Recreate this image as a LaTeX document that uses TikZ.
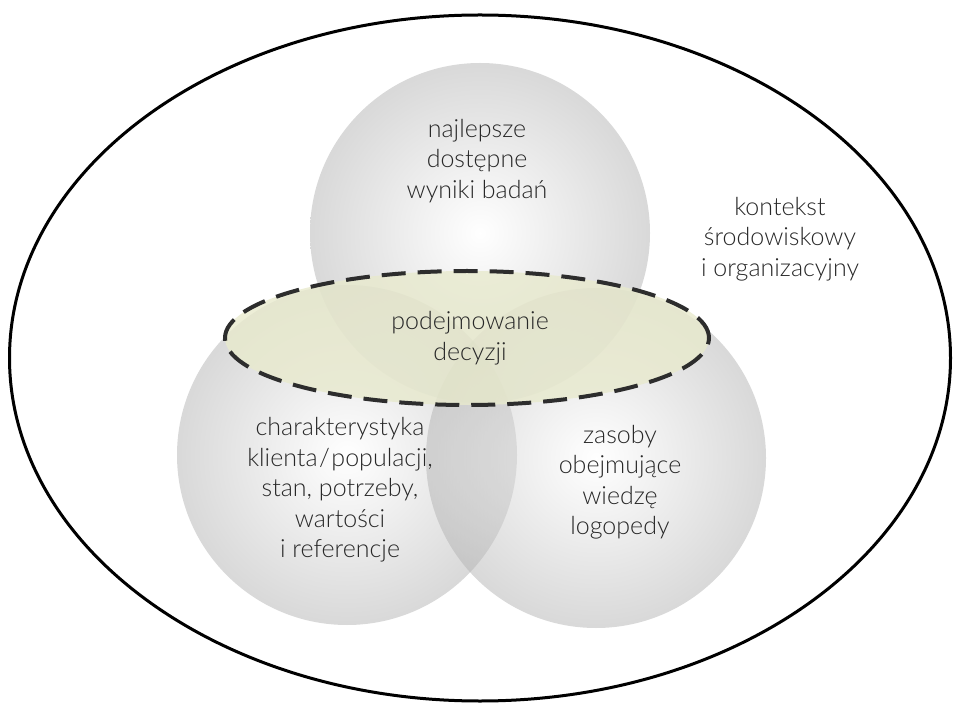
\documentclass[tikz,border=0pt]{standalone}
\usepackage{fontspec}
\setmainfont{Lato Light}
\usetikzlibrary{shapes.geometric}
\definecolor{txt}{RGB}{40,40,40}
\definecolor{decfill}{RGB}{232,234,205}
\definecolor{dashcol}{RGB}{45,45,45}
\begin{document}
\begin{tikzpicture}[x=1pt,y=-1pt,
  ball/.style={circle, minimum size=340pt, inner sep=0pt, shading=radial,
    inner color=white, outer color=black!30, fill opacity=0.5, draw=none},
  lbl/.style={align=center, text=txt, font=\fontsize{25}{30.5}\selectfont, inner sep=0pt}]
\useasboundingbox (0,0) rectangle (953,708);
\node[draw=black, line width=3pt, ellipse, minimum width=941pt, minimum height=686pt, inner sep=0pt] (outer) at (480,358) {};
\node[ball] (top) at (480,233) {};
\node[ball] (bl) at (347,455) {};
\node[ball] (br) at (596,458) {};
\node[ellipse, minimum width=484pt, minimum height=134pt, inner sep=0pt,
  fill=decfill, fill opacity=0.8, draw=dashcol, draw opacity=1, line width=4pt,
  dash pattern=on 24pt off 12pt] (dec) at (467,338) {};
\node[lbl] (ttop) at (477,161) {najlepsze\\dostępne\\wyniki badań};
\node[lbl] (tdec) at (470,338) {podejmowanie\\decyzji};
\node[lbl] (tbl) at (340,490) {charakterystyka\\klienta\kern1.5pt/\kern1.5pt populacji,\\stan, potrzeby,\\wartości\\i referencje};
\node[lbl] (tbr) at (620,482) {zasoby\\obejmujące\\wiedzę\\logopedy};
\node[lbl] (tctx) at (780,239) {kontekst\\środowiskowy\\i organizacyjny};
\end{tikzpicture}
\end{document}
